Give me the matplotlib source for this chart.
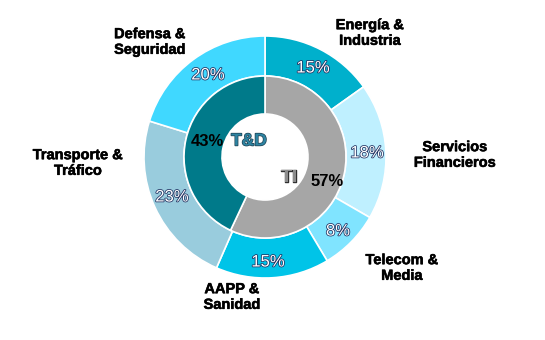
import matplotlib.pyplot as plt
import matplotlib.patheffects as pe

plt.rcParams['font.family'] = ['Liberation Sans', 'DejaVu Sans']

# outer ring, clockwise from top
sectors = ['Energía &\nIndustria', 'Servicios\nFinancieros', 'Telecom &\nMedia',
           'AAPP &\nSanidad', 'Transporte &\nTráfico', 'Defensa &\nSeguridad']
sector_pct = [15, 18, 8, 15, 23, 20]
sector_colors = ['#00B0CC', '#BFF0FF', '#80E4FF', '#00C4E8', '#99CCDD', '#40D8FF']

# inner ring, clockwise from top
groups = ['TI', 'T&D']
group_pct = [57, 43]
group_colors = ['#A6A6A6', '#007A8A']

W, H = 545, 340
fig = plt.figure(figsize=(W / 100, H / 100), dpi=100)
ax = fig.add_axes([0, 0, 1, 1])

cx, cy = 265, H - 157
r_out, r_mid, r_in = 121, 81, 43

ax.pie(sector_pct, radius=r_out, center=(cx, cy), colors=sector_colors,
       startangle=90, counterclock=False, frame=True,
       wedgeprops=dict(width=r_out - r_mid, edgecolor='white', linewidth=1.2))
ax.pie(group_pct, radius=r_mid, center=(cx, cy), colors=group_colors,
       startangle=90, counterclock=False, frame=True,
       wedgeprops=dict(width=r_mid - r_in, edgecolor='white', linewidth=1.2))
ax.set_xlim(0, W)
ax.set_ylim(0, H)
ax.set_aspect('equal')
ax.axis('off')

outline = [pe.Stroke(linewidth=1.1, foreground='#1F3060'), pe.Normal()]

# label positions in pixel coords (x, y from top)
name_pos = [(370, 33), (455, 155), (402, 268), (232, 297), (78, 163), (150, 42)]
pct_pos = [(313, 68), (367, 153), (338, 231), (268, 262), (172, 197), (208, 75)]

for name, (x, y) in zip(sectors, name_pos):
    ax.text(x, H - y, name, ha='center', va='center', fontsize=10.5,
            fontweight='bold', color='black', linespacing=1.15,
            path_effects=[pe.Stroke(linewidth=0.4, foreground='black'), pe.Normal()])

for p, (x, y) in zip(sector_pct, pct_pos):
    ax.text(x, H - y, f'{p}%', ha='center', va='center', fontsize=12,
            color='white', path_effects=outline)

ax.text(207, H - 141, f'{group_pct[1]}%', ha='center', va='center',
        fontsize=12, fontweight='bold', color='black')
ax.text(249, H - 141, groups[1], ha='center', va='center', fontsize=12.5,
        fontweight='bold', color='#2E84A2',
        path_effects=[pe.Stroke(linewidth=1.0, foreground='#1F4050'), pe.Normal()])
ax.text(289, H - 177, groups[0], ha='center', va='center', fontsize=12.5,
        fontweight='bold', color='#8C8C8C',
        path_effects=[pe.Stroke(linewidth=1.0, foreground='#303030'), pe.Normal()])
ax.text(327, H - 181, f'{group_pct[0]}%', ha='center', va='center',
        fontsize=12, fontweight='bold', color='black')

fig.savefig('out.png', dpi=100)
